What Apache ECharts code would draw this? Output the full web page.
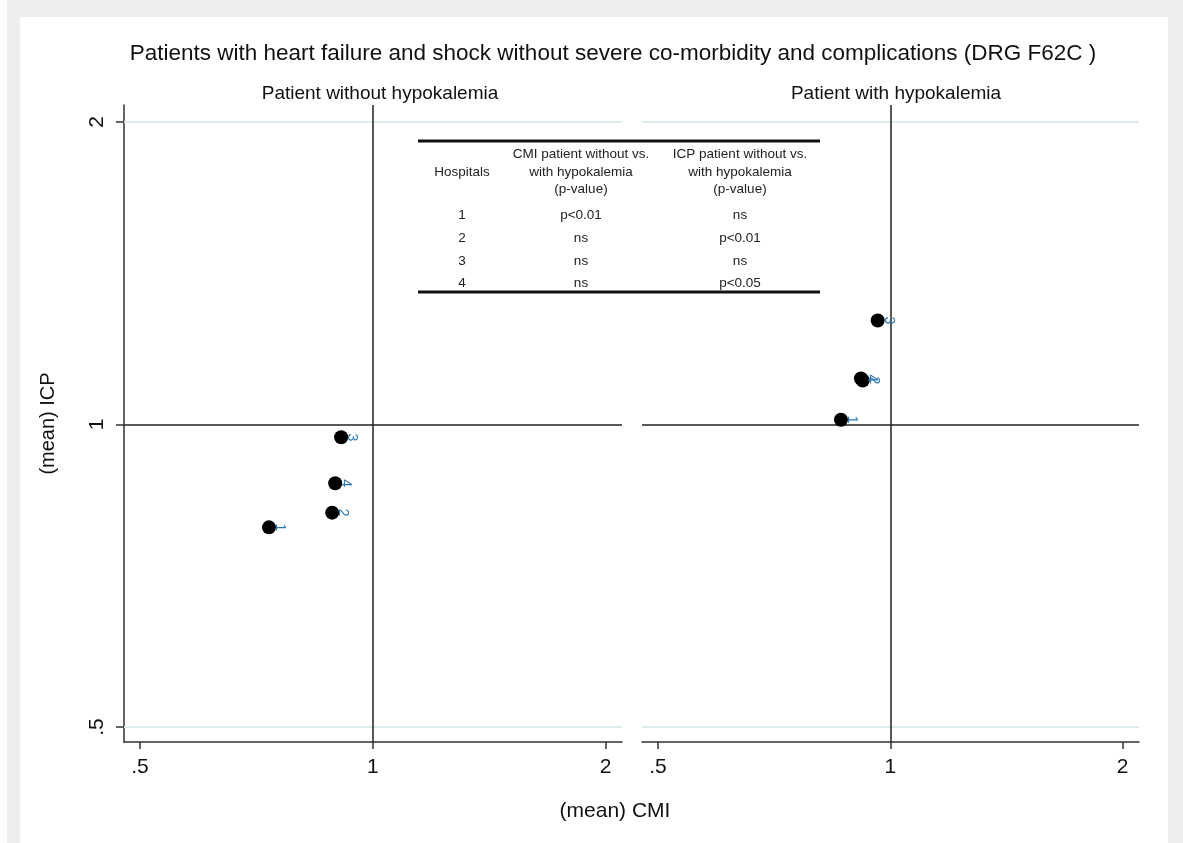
<!DOCTYPE html>
<html><head><meta charset="utf-8">
<script src="https://cdn.jsdelivr.net/npm/echarts@6/dist/echarts.min.js"></script>
<style>html,body{margin:0;padding:0;background:#fff}#c{width:1183px;height:843px}</style>
</head><body><div id="c"></div>
<script>
// ---- data ----
const hospitals = ['1', '2', '3', '4'];
const cmiWithout = [0.734, 0.886, 0.910, 0.894];
const icpWithout = [0.790, 0.817, 0.971, 0.874];
const cmiWith = [0.863, 0.921, 0.963, 0.916];
const icpWith = [1.011, 1.106, 1.269, 1.111];
const tickValues = [0.5, 1, 2];
const tickLabels = ['.5', '1', '2'];
const panelTitles = ['Patient without hypokalemia', 'Patient with hypokalemia'];
const tableHeaders = ['Hospitals', 'CMI patient without vs.\nwith hypokalemia\n(p-value)', 'ICP patient without vs.\nwith hypokalemia\n(p-value)'];
const tableCMI = ['p<0.01', 'ns', 'ns', 'ns'];
const tableICP = ['ns', 'p<0.01', 'ns', 'p<0.05'];

const FONT = 'Liberation Sans, Arial, sans-serif';
const fmt = v => { const i = tickValues.findIndex(t => Math.abs(t - v) < 1e-6); return i >= 0 ? tickLabels[i] : ''; };

function xAx(gi) {
  return {
    type: 'log', logBase: 2, gridIndex: gi, min: 0.4767, max: 2.1,
    axisLine: { show: true, onZero: false, lineStyle: { color: '#333', width: 1.5 } },
    axisTick: { show: true, customValues: tickValues, length: 7, lineStyle: { color: '#333', width: 1.5 } },
    axisLabel: { show: true, customValues: tickValues, formatter: fmt, fontSize: 21, color: '#111', margin: 15, fontFamily: FONT },
    splitLine: { show: false }, minorTick: { show: false }, minorSplitLine: { show: false }
  };
}
function yAx(gi, show) {
  return {
    type: 'log', logBase: 2, gridIndex: gi, min: 0.4831, max: 2.079, show: show,
    name: show ? '(mean) ICP' : '', nameLocation: 'middle', nameGap: 66, nameRotate: 90,
    nameTextStyle: { fontSize: 20, color: '#111', fontFamily: FONT },
    axisLine: { show: show, onZero: false, lineStyle: { color: '#333', width: 1.5 } },
    axisTick: { show: show, customValues: tickValues, length: 8, lineStyle: { color: '#333', width: 1.5 } },
    axisLabel: { show: show, customValues: tickValues, formatter: fmt, fontSize: 21, rotate: 90, color: '#111', margin: 16, fontFamily: FONT },
    splitLine: { show: false }, minorTick: { show: false }, minorSplitLine: { show: false }
  };
}
function refSeries(gi) {
  return {
    type: 'scatter', xAxisIndex: gi, yAxisIndex: gi, data: [], z: 1, silent: true,
    markLine: {
      symbol: 'none', silent: true, label: { show: false }, animation: false,
      data: [
        { yAxis: 2, lineStyle: { color: '#dcebee', width: 2, type: 'solid' } },
        { yAxis: 0.5, lineStyle: { color: '#dcebee', width: 2, type: 'solid' } },
        { yAxis: 1, lineStyle: { color: '#222', width: 1.5, type: 'solid' } },
        { xAxis: 1, lineStyle: { color: '#222', width: 1.5, type: 'solid' } }
      ]
    }
  };
}
function pointSeries(gi, xs, ys) {
  return {
    type: 'scatter', xAxisIndex: gi, yAxisIndex: gi, z: 5,
    symbol: 'circle', symbolSize: 14, itemStyle: { color: '#000', opacity: 1 },
    label: { show: true, formatter: p => p.name, position: 'right', rotate: -90, distance: 7, offset: [0, 3],
      align: 'center', verticalAlign: 'middle',
      color: '#2a78b4', fontSize: 14, fontFamily: FONT },
    data: hospitals.map((h, i) => ({ name: h, value: [xs[i], ys[i]] }))
  };
}

// table graphic
const tableG = [];
const tx = [462, 581, 740];
const TFS = 13.5;
tableG.push({ type: 'line', shape: { x1: 418, y1: 141, x2: 820, y2: 141 }, style: { stroke: '#111', lineWidth: 3 }, z: 20 });
tableG.push({ type: 'line', shape: { x1: 418, y1: 292, x2: 820, y2: 292 }, style: { stroke: '#111', lineWidth: 3 }, z: 20 });
tableHeaders.forEach((h, j) => {
  tableG.push({ type: 'text', x: tx[j], y: 172, z: 20, style: { text: h, align: 'center', verticalAlign: 'middle', fontSize: TFS, lineHeight: 17.5, fill: '#222', fontFamily: FONT } });
});
hospitals.forEach((h, i) => {
  const y = [215, 238, 261, 283][i];
  [h, tableCMI[i], tableICP[i]].forEach((t, j) => {
    tableG.push({ type: 'text', x: tx[j], y: y, z: 20, style: { text: t, align: 'center', verticalAlign: 'middle', fontSize: TFS, fill: '#222', fontFamily: FONT } });
  });
});

const chart = echarts.init(document.getElementById('c'), null, { renderer: 'canvas' });
chart.setOption({
  animation: false,
  backgroundColor: '#fff',
  title: [
    { text: 'Patients with heart failure and shock without severe co-morbidity and complications (DRG F62C )', left: 608, top: 37, textAlign: 'center',
      textStyle: { fontSize: 22.5, fontWeight: 'normal', color: '#111', fontFamily: FONT } },
    { text: panelTitles[0], left: 375, top: 79, textAlign: 'center', textStyle: { fontSize: 19, fontWeight: 'normal', color: '#111', fontFamily: FONT } },
    { text: panelTitles[1], left: 891, top: 79, textAlign: 'center', textStyle: { fontSize: 19, fontWeight: 'normal', color: '#111', fontFamily: FONT } },
    { text: '(mean) CMI', left: 610, top: 796, textAlign: 'center', textStyle: { fontSize: 21, fontWeight: 'normal', color: '#111', fontFamily: FONT } }
  ],
  graphic: [
    { type: 'rect', shape: { x: 7, y: 0, width: 1176, height: 843 }, style: { fill: '#eeeeee' }, z: -10, silent: true },
    { type: 'rect', shape: { x: 20, y: 17, width: 1148, height: 826 }, style: { fill: '#ffffff' }, z: -9, silent: true }
  ].concat(tableG),
  grid: [
    { left: 124, top: 105, width: 498, height: 637 },
    { left: 642, top: 105, width: 497, height: 637 }
  ],
  xAxis: [xAx(0), xAx(1)],
  yAxis: [yAx(0, true), yAx(1, false)],
  series: [refSeries(0), refSeries(1), pointSeries(0, cmiWithout, icpWithout), pointSeries(1, cmiWith, icpWith)]
});
</script>
</body></html>
